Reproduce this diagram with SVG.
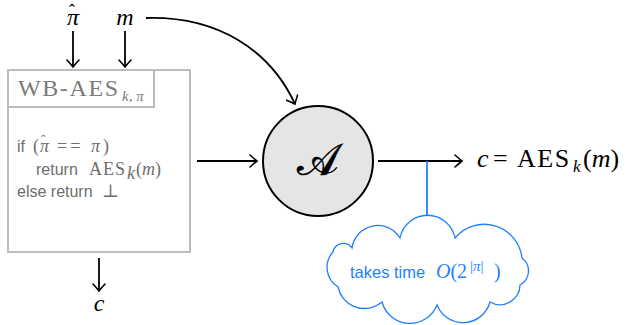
<svg xmlns="http://www.w3.org/2000/svg" width="629" height="325" viewBox="0 0 629 325">
  <defs>
    <style>
      .edge { stroke: #000; stroke-width: 1.8; fill: none; }
      .math { font-family: "Liberation Serif", "DejaVu Serif", serif; fill: #000; }
      .it { font-style: italic; }
      .box { fill: none; stroke: #bdbdbd; stroke-width: 2; }
      .code { font-family: "Liberation Sans", "DejaVu Sans", sans-serif; font-size: 16px; fill: #6e6e6e; }
      .cmath { font-family: "Liberation Serif", "DejaVu Serif", serif; font-size: 18px; fill: #6e6e6e; }
      .note { fill: #1f7fff; }
    </style>
    <marker id="tip" viewBox="-8 -7 10 14" markerWidth="10" markerHeight="14" refX="0" refY="0" orient="auto" markerUnits="userSpaceOnUse">
      <path d="M-7,-6 Q-2,-1.5 0,0 Q-2,1.5 -7,6" fill="none" stroke="#000" stroke-width="1.6" stroke-linecap="round"/>
    </marker>
  </defs>

  <!-- inputs -->
  <g id="input-pihat">
    <text class="math" x="67" y="25" font-size="24"><tspan font-style="italic">π</tspan><tspan dx="-10" dy="-8" font-size="18">ˆ</tspan></text>
  </g>
  <g id="input-m">
    <text class="math it" x="125" y="25" font-size="24" text-anchor="middle">m</text>
  </g>

  <!-- white-box AES program -->
  <g id="wb-aes">
    <rect class="box" x="8" y="70" width="182" height="182"/>
    <rect class="box" x="8" y="70" width="146" height="37"/>
    <text class="math" x="18" y="96" font-size="24" letter-spacing="1.6" style="fill:#7a7a7a">WB-AES</text>
    <text class="math it" x="122" y="101" font-size="15" style="fill:#7a7a7a">k<tspan font-style="normal">,</tspan> π</text>

    <text class="code" x="17" y="152">if</text>
    <text class="cmath" x="33" y="152">(<tspan font-style="italic" dx="1">π</tspan><tspan dx="-8" dy="-7" font-size="14">ˆ</tspan></text>
    <text class="cmath" x="57" y="152" letter-spacing="3">==</text>
    <text class="cmath it" x="91" y="152">π</text>
    <text class="cmath" x="103" y="152">)</text>

    <text class="code" x="36" y="175">return</text>
    <text class="cmath" x="89" y="175" letter-spacing="1">AES</text>
    <text class="cmath it" x="127" y="179" font-size="13">k</text>
    <text class="cmath" x="136" y="175">(<tspan font-style="italic">m</tspan>)</text>

    <text class="code" x="17" y="197">else return</text>
    <text class="cmath" x="102" y="197">⊥</text>
  </g>

  <!-- adversary -->
  <g id="adversary">
    <circle cx="318" cy="161" r="55" fill="#e5e5e5" stroke="#000" stroke-width="2"/>
    <text x="318" y="175" font-size="44" text-anchor="middle" font-family="DejaVu Serif, serif" fill="#000" stroke="#000" stroke-width="0.6">𝒜</text>
  </g>

  <!-- output -->
  <g id="output-c">
    <text class="math it" x="99" y="311" font-size="24" text-anchor="middle">c</text>
  </g>
  <g id="output-aes">
    <text class="math it" x="477" y="167" font-size="26">c</text>
    <text class="math" x="493" y="167" font-size="26">=</text>
    <text class="math" x="517" y="167" font-size="26" letter-spacing="1.5">AES</text>
    <text class="math it" x="573" y="172" font-size="17">k</text>
    <text class="math" x="583" y="167" font-size="26">(<tspan font-style="italic">m</tspan>)</text>
  </g>

  <!-- running-time note -->
  <g id="note">
    <path d="M352,248 A26,26 0 0 1 400,238 A28,28 0 0 1 455,238 A38,38 0 0 1 522,258 A16,16 0 0 1 520,285 A20,20 0 0 1 490,302 A28,28 0 0 1 437,305 A29,29 0 0 1 382,302 A27,27 0 0 1 338,287 A23,23 0 0 1 333,252 A10.5,10.5 0 0 1 352,248 Z" fill="#fff" stroke="#1f7fff" stroke-width="1.3"/>
    <text class="note" x="350" y="278" font-family="Liberation Sans, DejaVu Sans, sans-serif" font-size="16.5">takes time</text>
    <text class="note" x="436" y="278" font-family="Liberation Serif, DejaVu Serif, serif" font-size="20"><tspan font-style="italic">O</tspan>(2</text>
    <text class="note" x="470" y="271" font-family="Liberation Serif, DejaVu Serif, serif" font-size="15">|<tspan font-style="italic">π</tspan>|</text>
    <text class="note" x="494" y="278" font-family="Liberation Serif, DejaVu Serif, serif" font-size="20">)</text>
  </g>

  <!-- connectors -->
  <g id="connectors">
    <line class="edge" x1="73" y1="31" x2="73" y2="67" marker-end="url(#tip)"/>
    <line class="edge" x1="125" y1="31" x2="125" y2="67" marker-end="url(#tip)"/>
    <path class="edge" d="M146,18 C218,16 270,50 295,104" marker-end="url(#tip)"/>
    <line class="edge" x1="197" y1="161" x2="257" y2="161" marker-end="url(#tip)"/>
    <line class="edge" x1="378" y1="161" x2="462" y2="161" marker-end="url(#tip)"/>
    <line class="edge" x1="99" y1="258" x2="99" y2="291" marker-end="url(#tip)"/>
    <line x1="427" y1="161" x2="427" y2="216" stroke="#1f7fff" stroke-width="1.8"/>
  </g>
</svg>
